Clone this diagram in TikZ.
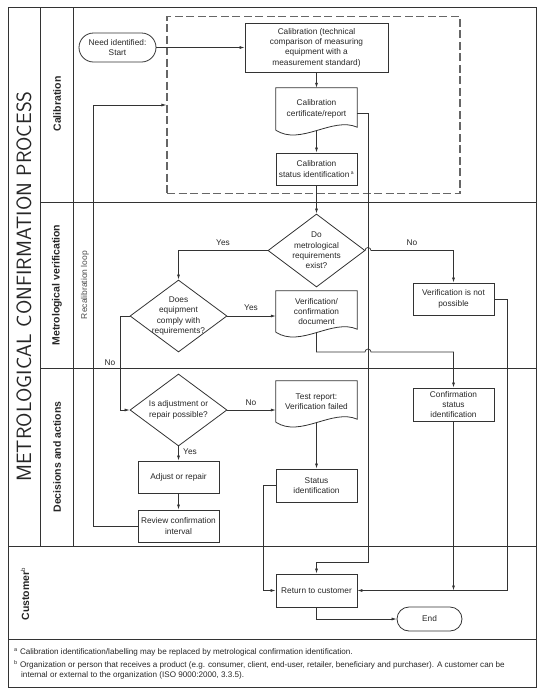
\documentclass[tikz,border=0pt]{standalone}
\usepackage{fontspec}
\setmainfont{Liberation Sans}
\usetikzlibrary{shapes.geometric,arrows.meta,calc}
\definecolor{ink}{gray}{0.2}
\definecolor{txt}{gray}{0.15}
\newcommand\docoutline[1]{%
  \draw[boxline] (#1.south west) -- (#1.north west) -- (#1.north east) -- ([yshift=3pt]#1.south east)
    .. controls ($(#1.south)+(16pt,14pt)$) and ($(#1.south)+(-16pt,-16pt)$) .. (#1.south west);}
\begin{document}
\begin{tikzpicture}[x=1pt,y=-1pt,
  frame/.style={draw=ink, line width=0.9pt},
  boxline/.style={draw=ink, line width=0.8pt},
  ln/.style={draw=ink, line width=0.7pt},
  arr/.style={ln, -{Latex[length=5pt,width=3pt]}},
  txtfont/.style={font=\fontsize{8.3}{10.4}\selectfont, text=txt},
  box/.style={boxline, rectangle, align=center, txtfont, inner sep=0pt, minimum width=81pt, minimum height=32pt},
  doc/.style={rectangle, align=center, txtfont, inner sep=0pt, minimum width=81pt},
  dec/.style={boxline, diamond, align=center, txtfont, inner sep=-4pt, aspect=1.33, minimum width=97pt, minimum height=72pt},
  term/.style={boxline, rectangle, align=center, txtfont, inner sep=0pt},
  lane/.style={rotate=90, font=\bfseries\fontsize{10.5}{12}\selectfont, text=txt},
  lbl/.style={txtfont},
  fn/.style={font=\fontsize{8.1}{10}\selectfont, text=txt, inner sep=0pt, anchor=base west}
]
\useasboundingbox (0,0) rectangle (542,697);
% frame and lanes
\draw[frame] (8,7) rectangle (536,687);
\draw[frame] (8,639) -- (536,639);
\draw[frame] (40,7) -- (40,546);
\draw[frame] (73,7) -- (73,546);
\draw[frame] (40,202) -- (536,202);
\draw[frame] (40,368) -- (536,368);
\draw[frame] (8,546) -- (536,546);
% titles
\node[rotate=90, font=\sffamily\fontsize{20.7}{20.7}\selectfont, text=txt] (title) at (24,286.5) {METROLOGICAL CONFIRMATION PROCESS};
\node[lane] (lcal) at (57,104) {Calibration};
\node[lane] (lmet) at (57,285) {Metrological verification};
\node[lane] (ldec) at (57,457) {Decisions and actions};
\node[lane] (lcus) at (25,594) {Customer\textsuperscript{\fontsize{6}{6}\selectfont\mdseries b}};
\node[rotate=90, font=\fontsize{8.5}{10}\selectfont, text=black!70] (recal) at (85,285) {Recalibration loop};
% calibration group
\node[draw=black!60, line width=1.1pt, dash pattern=on 8pt off 3.5pt, rectangle, minimum width=293pt, minimum height=177pt, inner sep=0pt] (calgroup) at (313.5,105) {};
% nodes
\node[term, rounded corners=14.5pt, minimum width=77pt, minimum height=29pt] (start) at (117.5,47.5) {Need identified:\\Start};
\node[box, minimum width=143pt, minimum height=49pt] (calib) at (316.5,47.5) {Calibration (technical\\comparison of measuring\\equipment with a\\measurement standard)};
\node[doc, minimum height=42pt] (cert) at (316.5,109) {Calibration\\certificate/report};
\docoutline{cert}
\node[box] (calstat) at (316.5,169) {Calibration\\status identification\,\textsuperscript{\fontsize{5}{5}\selectfont a}};
\node[dec, minimum height=73pt] (dm) at (316.5,250.5) {Do\\metrological\\requirements\\exist?};
\node[dec] (dc) at (178.5,316) {Does\\equipment\\comply with\\requirements?};
\node[box] (vnp) at (453.5,299) {Verification is not\\possible};
\node[doc, minimum height=41pt] (verdoc) at (316.5,311.5) {Verification/\\confirmation\\document};
\docoutline{verdoc}
\node[dec] (da) at (178.5,410) {Is adjustment or\\repair possible?};
\node[doc, minimum height=41pt] (testdoc) at (316.5,401.5) {Test report:\\Verification failed};
\docoutline{testdoc}
\node[box, minimum height=33pt] (csi) at (453.5,404.5) {Confirmation\\status\\identification};
\node[box] (adj) at (178.5,477) {Adjust or repair};
\node[box] (rev) at (178.5,526) {Review confirmation\\interval};
\node[box, minimum height=33pt] (stat) at (316.5,485.5) {Status\\identification};
\node[box, minimum height=33pt] (ret) at (316.5,590.5) {Return to customer};
\node[term, rounded corners=12pt, minimum width=65pt, minimum height=24pt] (end) at (429.5,619) {End};
\coordinate (loopc) at (93,105);
\coordinate (jn) at (453.5,590.5);
% connectors
\draw[arr] (start.east) -- (calib.west);
\draw[arr] (calib.south) -- (cert.north);
\draw[arr] (cert.south) -- (calstat.north);
\draw[arr] (calstat.south) -- (dm.north);
\draw[arr] ([yshift=-4pt]cert.east) -- (368,113) -- (368,562) -- (316.5,562) -- (ret.north);
\draw[arr] (dm.east) -- (365,250.5) arc[start angle=180,end angle=0,radius=3pt] -- (453.5,250.5) -- (vnp.north);
\draw[arr] (dm.west) -| (dc.north);
\draw[arr] (dc.east) -- (dc.east -| verdoc.west);
\draw[arr] (dc.west) -- (120,316) |- (da.west);
\draw[arr] (verdoc.south) -- (316.5,352) -- (365,352) arc[start angle=180,end angle=0,radius=3pt] -- (453.5,352) -- (csi.north);
\draw[arr] (da.east) -- (da.east -| testdoc.west);
\draw[arr] (da.south) -- (adj.north);
\draw[arr] (adj.south) -- (rev.north);
\draw[arr] (rev.west) -| (loopc) -- (calgroup.west);
\draw[arr] (testdoc.south) -- (stat.north);
\draw[arr] (stat.west) -- (263,485.5) |- (ret.west);
\draw[arr] (vnp.east) -- (507,299) |- (ret.east);
\draw[arr] (csi.south) -- (jn);
\draw[arr] (ret.south) |- (end.west);
% labels
\node[lbl] (y1) at (223,243) {Yes};
\node[lbl] (n1) at (412,243) {No};
\node[lbl] (y2) at (251,308) {Yes};
\node[lbl] (n2) at (110,363) {No};
\node[lbl] (n3) at (251,403) {No};
\node[lbl] (y3) at (190,452) {Yes};
% footnotes
\node[fn] (fa) at (14,654) {\textsuperscript{\fontsize{5.5}{5.5}\selectfont a}\ Calibration identification/labelling may be replaced by metrological confirmation identification.};
\node[fn] (fb) at (14,667) {\textsuperscript{\fontsize{5.5}{5.5}\selectfont b}\ Organization or person that receives a product (e.g. consumer, client, end-user, retailer, beneficiary and purchaser). A customer can be};
\node[fn] (fb2) at (21,677) {internal or external to the organization (ISO 9000:2000, 3.3.5).};
\end{tikzpicture}
\end{document}
